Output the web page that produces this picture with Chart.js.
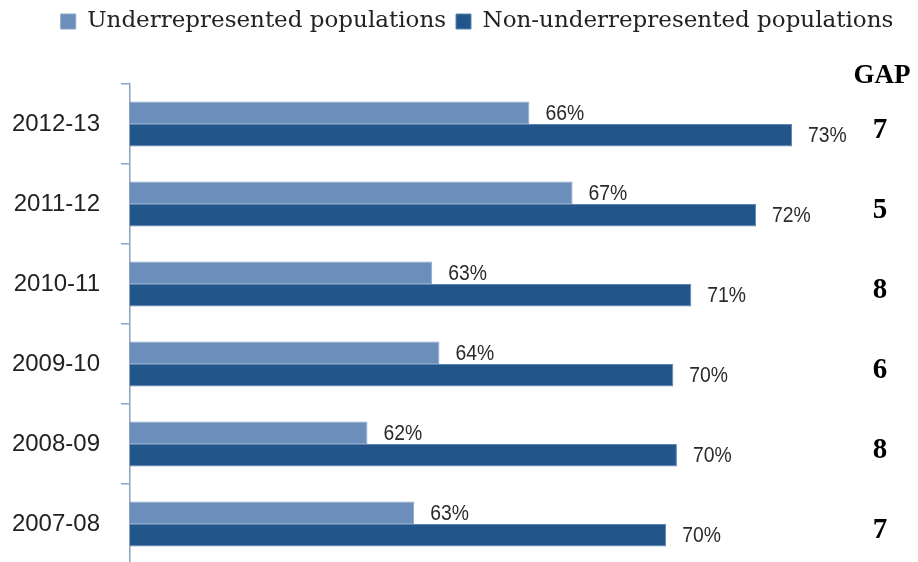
<!DOCTYPE html>
<html>
<head>
<meta charset="utf-8">
<script src="https://cdn.jsdelivr.net/npm/chart.js@4.4.1/dist/chart.umd.min.js"></script>
<style>
  html, body { margin: 0; padding: 0; background: #fff; overflow: hidden; }
  #wrap { width: 918px; height: 564px; position: relative; }
</style>
</head>
<body>
<div id="wrap"><canvas id="myChart"></canvas></div>
<script>
// school years, top to bottom
const years = ['2012-13', '2011-12', '2010-11', '2009-10', '2008-09', '2007-08'];
// percent values
const underrepresented = [66.1, 67.3, 63.4, 63.6, 61.6, 62.9];
const nonUnderrepresented = [73.4, 72.4, 70.6, 70.1, 70.2, 69.9];
// gap column on the right
const gaps = [7, 5, 8, 6, 8, 7];

const lightBlue = '#6C8EBA';
const darkBlue = '#22558A';
const axisColor = '#8EA2C2';

// legend needs extra room below it and sits a bit right of centre
const legendTweak = {
    id: 'legendTweak',
    beforeInit(chart) {
        const legend = chart.legend;
        const fit = legend.fit;
        legend.fit = function () {
            fit.call(this);
            this.height = 84;
        };
    },
    afterLayout(chart) {
        chart.legend.left += 18;
        chart.legend.right += 18;
    }
};

// labels next to each bar + the GAP column
const extraText = {
    id: 'extraText',
    afterDatasetsDraw(chart) {
        const ctx = chart.ctx;
        ctx.save();
        ctx.fillStyle = '#2a2a2a';
        ctx.font = "22px 'Liberation Sans', sans-serif";
        ctx.textAlign = 'left';
        ctx.textBaseline = 'middle';
        chart.data.datasets.forEach((ds, i) => {
            const meta = chart.getDatasetMeta(i);
            meta.data.forEach((bar, j) => {
                const x = bar.x + 16;
                ctx.save();
                ctx.translate(x, bar.y + 1);
                ctx.scale(0.88, 1); // narrower, like the original's font
                ctx.fillText(Math.round(ds.data[j]) + '%', 0, 0);
                ctx.restore();
            });
        });

        const yScale = chart.scales.y;
        ctx.fillStyle = '#000';
        ctx.textAlign = 'center';
        ctx.font = "bold 27px 'Liberation Serif', serif";
        ctx.fillText('GAP', 882, 76);
        ctx.font = "bold 29px 'Liberation Serif', serif";
        gaps.forEach((g, i) => {
            ctx.fillText(g, 880, yScale.getPixelForValue(i) + 7);
        });
        ctx.restore();
    }
};

const ctx = document.getElementById('myChart').getContext('2d');
const myChart = new Chart(ctx, {
    type: 'bar',
    data: {
        labels: years,
        datasets: [
            {
                label: 'Underrepresented populations',
                data: underrepresented,
                backgroundColor: lightBlue,
                borderColor: '#8AA6CB',
                borderWidth: 1,
                categoryPercentage: 0.565,
                barPercentage: 1
            },
            {
                label: 'Non-underrepresented populations',
                data: nonUnderrepresented,
                backgroundColor: darkBlue,
                borderColor: '#5E86B4',
                borderWidth: 1,
                categoryPercentage: 0.565,
                barPercentage: 1
            }
        ]
    },
    options: {
        indexAxis: 'y',
        responsive: true,
        maintainAspectRatio: false,
        animation: false,
        layout: {
            padding: 0
        },
        plugins: {
            legend: {
                position: 'top',
                labels: {
                    boxWidth: 15,
                    boxHeight: 15,
                    padding: 10,
                    color: '#222',
                    font: { family: "'DejaVu Serif', serif", size: 23 }
                }
            },
            tooltip: { enabled: false }
        },
        scales: {
            x: {
                display: false,
                min: 55,
                max: 76.9
            },
            y: {
                offset: true,
                afterFit: (scale) => {
                    scale.width = 130;
                    scale.paddingTop = 0;
                    scale.paddingBottom = 0;
                },
                border: { color: axisColor, width: 1.5 },
                grid: {
                    offset: true,
                    drawOnChartArea: false,
                    color: axisColor,
                    lineWidth: 1.5,
                    tickLength: 9
                },
                ticks: {
                    padding: 21,
                    color: '#222',
                    font: { family: "'Liberation Sans', sans-serif", size: 24 }
                }
            }
        }
    },
    plugins: [legendTweak, extraText]
});
</script>
</body>
</html>
